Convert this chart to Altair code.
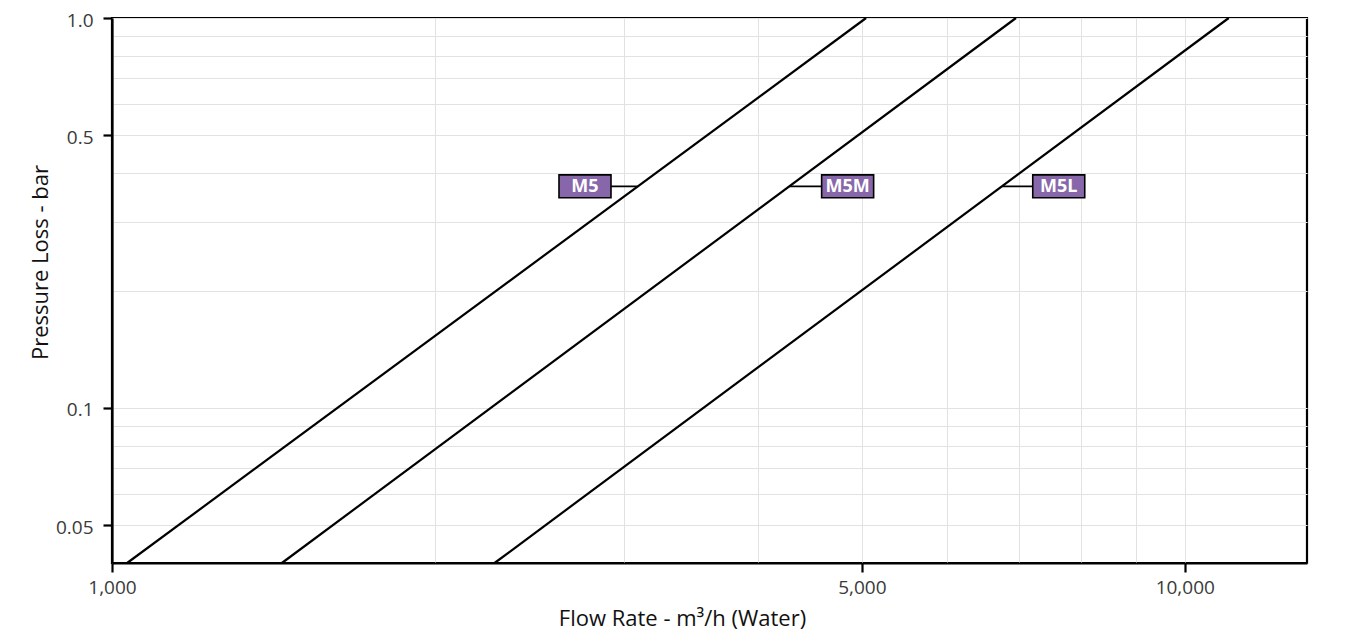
import numpy as np
import pandas as pd
import altair as alt

# pressure loss curves, read at the frame edges (flow m3/h, pressure bar)
models = ["M5", "M5M", "M5L"]
flow_low = [1033, 1440, 2273]
flow_high = [5046, 6961, 10990]
p_low = 0.04
p_high = 1.0

# label boxes
label_flow = [2760, 4850, 7630]
label_p = 0.37

x_domain = [1000, 13000]
y_domain = [0.04, 1.0]
x_grid = [1000, 2000, 3000, 4000, 5000, 6000, 7000, 8000, 9000, 10000]
y_grid = [0.04, 0.05, 0.06, 0.07, 0.08, 0.09, 0.1, 0.2, 0.3, 0.4, 0.5, 0.6, 0.7, 0.8, 0.9, 1.0]
x_ticks = [1000, 5000, 10000]
x_tick_labels = ["1,000", "5,000", "10,000"]
y_ticks = [0.05, 0.1, 0.5, 1.0]
y_tick_labels = ["0.05", "0.1", "0.5", "1.0"]

font = "Open Sans"
purple = "#8767aa"

rows = []
for m, f0, f1 in zip(models, flow_low, flow_high):
    rows.append({"model": m, "flow": f0, "p": p_low})
    rows.append({"model": m, "flow": f1, "p": p_high})
lines = pd.DataFrame(rows)

# where each curve crosses the label height (straight line in log-log)
t = (np.log10(label_p) - np.log10(p_low)) / (np.log10(p_high) - np.log10(p_low))
cross = 10 ** (np.log10(flow_low) + t * (np.log10(flow_high) - np.log10(flow_low)))
labels = pd.DataFrame({"model": models, "flow": label_flow, "p": label_p, "cross": cross})


def label_expr(vals, texts):
    parts = " : ".join(
        f"abs(datum.value - {v}) < {v * 1e-6} ? '{s}'" for v, s in zip(vals, texts)
    )
    return parts + " : ''"


def tick_test(vals):
    return " || ".join(f"abs(datum.value - {v}) < {v * 1e-6}" for v in vals)


x_enc = alt.X(
    "flow:Q",
    scale=alt.Scale(type="log", domain=x_domain, nice=False),
    axis=alt.Axis(
        values=x_grid,
        labelExpr=label_expr(x_ticks, x_tick_labels),
        tickOpacity={"condition": {"test": tick_test(x_ticks), "value": 1}, "value": 0},
        title="Flow Rate - m³/h (Water)",
        titleX=570,
        titleY=55,
        titleBaseline="middle",
        titleAlign="center",
    ),
)
y_enc = alt.Y(
    "p:Q",
    scale=alt.Scale(type="log", domain=y_domain, nice=False),
    axis=alt.Axis(
        values=y_grid,
        labelExpr=label_expr(y_ticks, y_tick_labels),
        tickOpacity={"condition": {"test": tick_test(y_ticks), "value": 1}, "value": 0},
        labelOffset=2,
        title="Pressure Loss - bar",
        titleX=-72,
        titleY=244,
        titleBaseline="middle",
        titleAlign="center",
    ),
)

curves = alt.Chart(lines).mark_line(color="black", strokeWidth=2.2).encode(
    x=x_enc, y=y_enc, detail="model:N"
)

leaders = alt.Chart(labels).mark_rule(color="black", strokeWidth=1.6).encode(
    x="flow:Q", x2="cross", y="p:Q"
)

boxes = alt.Chart(labels).mark_point(
    shape="M-1,-0.44L1,-0.44L1,0.44L-1,0.44Z",
    size=2704,
    filled=True,
    fill=purple,
    stroke="black",
    strokeWidth=1.6,
    opacity=1,
).encode(x="flow:Q", y="p:Q")

texts = alt.Chart(labels).mark_text(
    color="white", font=font, fontSize=18, fontWeight="bold", baseline="middle", dy=1
).encode(x="flow:Q", y="p:Q", text="model:N")

chart = (
    alt.layer(curves, leaders, boxes, texts)
    .properties(
        width=1195,
        height=545,
        autosize=alt.AutoSizeParams(type="none"),
        padding={"left": 104, "top": 10, "right": 30, "bottom": 70},
    )
    .configure_view(stroke="black", strokeWidth=2.2)
    .configure_axis(
        grid=True,
        gridColor="#e2e2e2",
        gridWidth=1,
        domainColor="black",
        domainWidth=2.2,
        tickColor="black",
        tickWidth=2.2,
        tickSize=9,
        labelFlush=False,
        labelFont=font,
        labelFontSize=19,
        labelColor="#3a3a3a",
        titleFont=font,
        titleFontSize=22,
        titleFontWeight="normal",
        titleColor="#111111",
    )
    .configure_axisX(labelPadding=6)
    .configure_axisY(labelPadding=10)
)

chart.save("out.html", embed_options={"renderer": "svg", "actions": False})
